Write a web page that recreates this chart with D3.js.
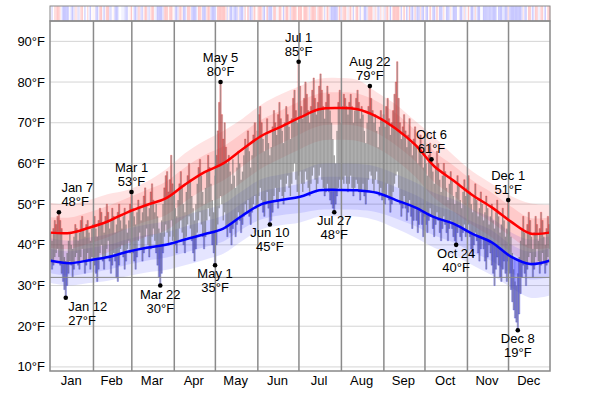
<!DOCTYPE html>
<html>
<head>
<meta charset="utf-8">
<script src="https://cdn.jsdelivr.net/npm/d3@7"></script>
<style>
  body { margin: 0; background: #fff; }
  svg text { font-family: "Liberation Sans", Arial, Helvetica, sans-serif; font-size: 13px; fill: #000; }
</style>
</head>
<body>
<div id="chart"></div>
<script>
// ---- data ----
const months = ["Jan", "Feb", "Mar", "Apr", "May", "Jun", "Jul", "Aug", "Sep", "Oct", "Nov", "Dec"];
const monthLengths = [31, 28, 31, 30, 31, 30, 31, 31, 30, 31, 30, 31];
const tempTicks = [10, 20, 30, 40, 50, 60, 70, 80, 90];

// daily high, °F (one row per month)
const dailyHigh = [
  43, 41, 44, 46, 45, 47, 48, 46, 44, 40, 37, 36, 38, 41, 43, 40, 39, 42, 45, 44, 41, 43, 46, 47, 44, 42, 45, 46, 43, 41, 44,
  45, 47, 44, 42, 46, 49, 48, 45, 43, 47, 50, 48, 44, 46, 49, 47, 43, 45, 48, 50, 46, 44, 47, 49, 45, 43, 46, 50,
  53, 49, 47, 45, 48, 51, 49, 46, 48, 52, 54, 50, 47, 49, 53, 55, 51, 48, 50, 47, 44, 43, 46, 50, 54, 57, 58, 53, 56, 62, 55,
  52, 49, 47, 51, 55, 58, 54, 50, 48, 53, 57, 60, 56, 52, 49, 46, 50, 55, 59, 61, 57, 53, 50, 54, 58, 62, 59, 55, 51, 48,
  57, 62, 68, 75, 80, 72, 66, 70, 64, 60, 62, 58, 55, 61, 57, 54, 59, 63, 60, 56, 58, 62, 66, 64, 68, 63, 59, 62, 67, 70, 66,
  68, 72, 74, 70, 66, 63, 67, 71, 65, 62, 64, 69, 73, 70, 67, 72, 75, 71, 68, 65, 70, 74, 72, 69, 66, 71, 76, 78, 73, 70,
  85, 79, 74, 71, 76, 80, 77, 73, 70, 74, 78, 81, 76, 72, 75, 79, 82, 78, 74, 71, 75, 79, 77, 73, 70, 66, 62, 60, 68, 75, 78,
  70, 74, 77, 76, 74, 72, 75, 77, 74, 70, 73, 76, 78, 75, 71, 74, 72, 68, 65, 70, 74, 79, 76, 73, 70, 72, 68, 64, 69, 73, 71,
  72, 69, 74, 76, 71, 67, 70, 73, 77, 80, 85, 76, 70, 66, 69, 72, 68, 64, 67, 71, 65, 62, 66, 69, 64, 60, 63, 67, 62, 59,
  64, 60, 57, 62, 65, 61, 58, 55, 59, 63, 60, 56, 53, 57, 60, 58, 54, 51, 55, 58, 56, 52, 50, 53, 57, 55, 51, 49, 53, 56, 52,
  54, 57, 53, 50, 48, 52, 55, 51, 47, 49, 53, 50, 46, 48, 52, 49, 45, 47, 50, 46, 44, 48, 51, 47, 43, 45, 49, 46, 42, 44,
  51, 46, 42, 38, 34, 31, 30, 33, 37, 41, 44, 47, 43, 40, 45, 48, 46, 42, 39, 43, 47, 45, 41, 44, 48, 46, 42, 40, 44, 47, 45
];

// daily low, °F
const dailyLow = [
  36, 34, 35, 37, 38, 39, 37, 35, 33, 31, 29, 27, 30, 33, 36, 35, 32, 34, 37, 38, 35, 34, 37, 39, 36, 33, 35, 38, 36, 34, 37,
  37, 35, 33, 31, 34, 38, 40, 36, 34, 37, 39, 41, 36, 33, 35, 38, 36, 32, 31, 35, 39, 40, 37, 34, 36, 39, 41, 38,
  40, 38, 36, 34, 37, 41, 43, 39, 36, 38, 42, 44, 40, 37, 39, 42, 44, 41, 38, 35, 32, 30, 33, 38, 42, 45, 43, 40, 42, 46, 41,
  42, 40, 38, 41, 44, 46, 43, 40, 38, 42, 45, 47, 44, 41, 38, 36, 39, 43, 46, 48, 45, 42, 39, 42, 46, 49, 47, 43, 40, 38,
  35, 40, 45, 49, 52, 50, 46, 48, 44, 42, 45, 43, 40, 44, 46, 42, 45, 48, 46, 43, 45, 47, 50, 48, 51, 47, 45, 48, 50, 52, 49,
  50, 52, 54, 51, 48, 47, 50, 53, 49, 45, 46, 48, 52, 54, 51, 49, 53, 56, 52, 50, 53, 55, 57, 54, 52, 55, 58, 60, 56, 53,
  57, 58, 55, 53, 55, 58, 56, 54, 52, 55, 57, 59, 56, 53, 55, 57, 59, 56, 54, 52, 53, 55, 53, 51, 50, 49, 48, 50, 52, 54, 56,
  54, 56, 55, 57, 55, 53, 55, 57, 54, 52, 54, 56, 55, 53, 51, 53, 55, 52, 50, 53, 56, 58, 57, 55, 53, 56, 58, 55, 52, 54, 51,
  53, 50, 52, 55, 51, 48, 50, 53, 55, 57, 58, 54, 50, 47, 49, 52, 49, 46, 48, 51, 47, 44, 46, 49, 46, 43, 45, 48, 45, 42,
  47, 45, 43, 46, 49, 47, 44, 42, 45, 48, 46, 43, 41, 44, 47, 45, 43, 41, 44, 46, 44, 42, 41, 40, 43, 45, 42, 41, 43, 45, 42,
  43, 45, 42, 39, 37, 40, 43, 41, 38, 36, 39, 42, 39, 36, 34, 37, 40, 38, 35, 33, 30, 34, 37, 35, 32, 31, 34, 36, 33, 31,
  36, 33, 29, 26, 24, 22, 21, 19, 23, 28, 32, 35, 33, 30, 34, 37, 38, 35, 32, 34, 37, 39, 36, 33, 35, 38, 36, 33, 35, 37, 39
];

// averages and percentile bands, sampled every two weeks
const normalDays = [0, 14, 28, 42, 56, 70, 84, 98, 112, 126, 140, 154, 168, 182, 196, 210, 224, 238, 252, 266, 280, 294, 308, 322, 336, 350, 364];
const avgHigh = [43.0, 42.9, 44.2, 45.8, 48.0, 49.8, 51.4, 54.8, 57.8, 60.0, 63.5, 66.8, 69.0, 71.3, 73.3, 73.6, 73.3, 71.5, 68.5, 64.6, 59.3, 55.8, 52.2, 49.2, 45.7, 42.8, 43.0];
const high90 = [50.3, 50.0, 51.0, 52.5, 53.5, 55.5, 58.5, 62.5, 65.5, 68.0, 71.0, 74.5, 77.0, 79.0, 80.8, 81.0, 80.5, 77.5, 74.5, 70.5, 66.5, 62.0, 58.0, 55.0, 52.0, 50.2, 49.8];
const high75 = [46.8, 46.7, 48.0, 49.6, 51.5, 53.5, 55.5, 59.0, 62.0, 64.2, 67.5, 70.8, 73.0, 75.3, 77.2, 77.5, 77.2, 75.3, 72.3, 68.2, 63.0, 59.5, 55.8, 52.8, 49.4, 46.6, 46.8];
const high25 = [39.2, 39.0, 40.3, 41.9, 44.0, 45.8, 47.3, 50.6, 53.6, 55.8, 59.3, 62.6, 64.9, 67.2, 69.2, 69.5, 69.2, 67.4, 64.5, 60.6, 55.4, 52.0, 48.5, 45.5, 42.0, 39.1, 39.3];
const high10 = [35.5, 35.3, 36.6, 38.2, 40.3, 42.0, 43.5, 46.8, 49.8, 52.0, 55.5, 58.8, 61.2, 63.5, 65.5, 65.8, 65.5, 63.8, 60.8, 56.8, 51.6, 48.2, 44.8, 41.8, 38.2, 35.3, 35.5];
const avgLow = [36.1, 35.5, 36.2, 37.0, 38.3, 39.3, 40.0, 41.3, 42.6, 44.0, 47.2, 50.0, 51.0, 51.8, 53.4, 53.5, 53.4, 52.8, 51.0, 49.2, 46.8, 45.2, 42.7, 40.6, 37.1, 35.3, 36.1];
const low90 = [41.6, 41.0, 41.8, 42.6, 44.0, 45.0, 45.8, 47.2, 48.6, 50.1, 53.3, 56.2, 57.3, 58.2, 59.9, 60.0, 59.9, 59.2, 57.4, 55.4, 52.8, 51.2, 48.7, 46.6, 43.1, 41.3, 42.1];
const low75 = [39.0, 38.4, 39.2, 40.0, 41.4, 42.4, 43.1, 44.5, 45.8, 47.2, 50.3, 53.1, 54.1, 55.0, 56.6, 56.7, 56.6, 56.0, 54.2, 52.3, 49.8, 48.2, 45.7, 43.6, 40.1, 38.3, 39.1];
const low25 = [33.0, 32.4, 33.1, 33.9, 35.1, 36.1, 36.8, 38.1, 39.4, 40.8, 43.9, 46.3, 47.3, 47.8, 48.6, 48.7, 48.6, 48.0, 46.5, 44.6, 42.3, 40.6, 38.2, 36.0, 33.0, 31.5, 32.0];
const low10 = [30.6, 30.0, 30.6, 31.2, 32.3, 33.2, 33.8, 35.0, 36.3, 37.8, 41.0, 43.8, 44.8, 45.5, 46.9, 47.0, 46.9, 46.0, 44.0, 41.8, 39.3, 37.5, 35.0, 32.5, 29.5, 27.0, 27.5];

// marked days
const noteDates = ["Jan 7", "Jan 12", "Mar 1", "Mar 22", "May 1", "May 5", "Jun 10", "Jul 1", "Jul 27", "Aug 22", "Oct 6", "Oct 24", "Dec 1", "Dec 8"];
const noteTemps = [48, 27, 53, 30, 35, 80, 45, 85, 48, 79, 61, 40, 51, 19];
const noteKinds = ["high", "low", "high", "low", "low", "high", "low", "high", "low", "high", "high", "low", "high", "low"];

// ---- chart ----
const width = 600, height = 394;
const plot = {left: 50, right: 550, top: 21, bottom: 371};

const x = d3.scaleLinear().domain([0, 365]).range([plot.left, plot.right]);
const y = d3.scaleLinear().domain([9, 95]).range([plot.bottom, plot.top]);

const svg = d3.select("#chart").append("svg")
    .attr("width", width)
    .attr("height", height);

svg.append("defs").append("clipPath").attr("id", "plot-clip")
    .append("rect")
    .attr("x", plot.left).attr("y", plot.top)
    .attr("width", plot.right - plot.left).attr("height", plot.bottom - plot.top);

const days = d3.range(dailyHigh.length);
const monthStarts = d3.cumsum([0].concat(monthLengths.slice(0, -1)));

// average for any day
const normHi = d3.scaleLinear().domain(normalDays).range(avgHigh);
const normLo = d3.scaleLinear().domain(normalDays).range(avgLow);

// anomaly strip along the top
const anomalyColor = d3.scaleLinear().domain([-3, 0, 3])
    .range(["#c8c8ff", "#ffffff", "#ffc8c8"]).clamp(true);

svg.append("g").selectAll("rect")
    .data(days)
    .join("rect")
    .attr("x", d => x(d))
    .attr("width", d => x(d + 1) - x(d) + 0.3)
    .attr("y", 6)
    .attr("height", 15)
    .attr("fill", d => anomalyColor((dailyHigh[d] + dailyLow[d]) / 2 - (normHi(d) + normLo(d)) / 2));

svg.append("rect")
    .attr("x", plot.left).attr("y", 6)
    .attr("width", plot.right - plot.left).attr("height", 15)
    .attr("fill", "none").attr("stroke", "#888").attr("stroke-width", 1);

const g = svg.append("g").attr("clip-path", "url(#plot-clip)");

// horizontal grid
g.append("g").selectAll("line")
    .data(tempTicks)
    .join("line")
    .attr("x1", plot.left).attr("x2", plot.right)
    .attr("y1", d => y(d)).attr("y2", d => y(d))
    .attr("stroke", "#d4d4d4").attr("stroke-width", 1);

// percentile bands
const band = (lo, hi) => d3.area()
    .x((d, i) => x(normalDays[i] + 0.5))
    .y0((d, i) => y(lo[i]))
    .y1((d, i) => y(hi[i]))
    .curve(d3.curveCatmullRom);

const bands = [
    [low10, low90, "rgba(0,0,255,0.1)"],
    [low25, low75, "rgba(0,0,255,0.1)"],
    [high10, high90, "rgba(255,0,0,0.11)"],
    [high25, high75, "rgba(255,0,0,0.11)"]
];
bands.forEach(b => {
    g.append("path")
        .datum(normalDays)
        .attr("d", band(b[0], b[1]))
        .attr("fill", b[2]);
});

// daily bars
const bars = g.append("g");
bars.selectAll("rect")
    .data(days)
    .join("rect")
    .attr("x", d => x(d))
    .attr("width", d => x(d + 1) - x(d))
    .attr("y", d => y(dailyHigh[d]))
    .attr("height", d => y(dailyLow[d]) - y(dailyHigh[d]))
    .attr("fill", "#5a5a5a")
    .attr("fill-opacity", 0.56);

// outline in red where a day beats the average high, blue where it drops below the average low
bars.selectAll("path.hi-edge")
    .data(days.filter(d => dailyHigh[d] > normHi(d)))
    .join("path")
    .attr("class", "hi-edge")
    .attr("d", d => `M${x(d)},${y(normHi(d))}V${y(dailyHigh[d])}H${x(d + 1)}V${y(normHi(d))}`)
    .attr("fill", "none")
    .attr("stroke", "#ff2020")
    .attr("stroke-opacity", 0.5)
    .attr("stroke-width", 0.6);

bars.selectAll("path.lo-edge")
    .data(days.filter(d => dailyLow[d] < normLo(d)))
    .join("path")
    .attr("class", "lo-edge")
    .attr("d", d => `M${x(d)},${y(normLo(d))}V${y(dailyLow[d])}H${x(d + 1)}V${y(normLo(d))}`)
    .attr("fill", "none")
    .attr("stroke", "#2020ff")
    .attr("stroke-opacity", 0.45)
    .attr("stroke-width", 0.6);

// freezing line
g.append("line")
    .attr("x1", plot.left).attr("x2", plot.right)
    .attr("y1", y(32)).attr("y2", y(32))
    .attr("stroke", "#888").attr("stroke-width", 1);

// month separators
g.append("g").selectAll("line")
    .data(monthStarts.slice(1))
    .join("line")
    .attr("x1", d => x(d) + 1).attr("x2", d => x(d) + 1)
    .attr("y1", plot.top).attr("y2", plot.bottom)
    .attr("stroke", "#8a8a8a").attr("stroke-width", 1.5);

// average lines
const avgLine = vals => d3.line()
    .x((d, i) => x(normalDays[i] + 0.5))
    .y((d, i) => y(vals[i]))
    .curve(d3.curveCatmullRom);

g.append("path").datum(normalDays).attr("d", avgLine(avgHigh))
    .attr("fill", "none").attr("stroke", "#ff0000").attr("stroke-width", 2.5);
g.append("path").datum(normalDays).attr("d", avgLine(avgLow))
    .attr("fill", "none").attr("stroke", "#0000ff").attr("stroke-width", 2.5);

// frame
svg.append("rect")
    .attr("x", plot.left).attr("y", plot.top)
    .attr("width", plot.right - plot.left).attr("height", plot.bottom - plot.top)
    .attr("fill", "none").attr("stroke", "#888").attr("stroke-width", 1.5);

// y labels
svg.append("g").selectAll("text")
    .data(tempTicks)
    .join("text")
    .attr("x", 45)
    .attr("y", d => y(d))
    .attr("dy", "0.35em")
    .attr("text-anchor", "end")
    .text(d => `${d}°F`);

// month labels
svg.append("g").selectAll("text")
    .data(months)
    .join("text")
    .attr("x", (d, i) => x(monthStarts[i] + monthLengths[i] / 2))
    .attr("y", 385)
    .attr("text-anchor", "middle")
    .text(d => d);

// notes
const parseDay = d3.timeParse("%b %d %Y");
const yearStart = new Date(2023, 0, 1);
const notes = svg.append("g");
noteDates.forEach((label, i) => {
    const day = d3.timeDay.count(yearStart, parseDay(label + " 2023"));
    const cx = x(day + 0.5), cy = y(noteTemps[i]);
    const nearEdge = cx < 75;
    const tx = nearEdge ? cx + 2.5 : cx;
    const anchor = nearEdge ? "start" : "middle";
    const lines = noteKinds[i] === "high" ? [cy - 20, cy - 6] : [cy + 13, cy + 27];

    notes.append("circle").attr("cx", cx).attr("cy", cy).attr("r", 2.3).attr("fill", "#000");
    notes.append("text").attr("x", tx).attr("y", lines[0]).attr("text-anchor", anchor).text(label);
    notes.append("text").attr("x", tx).attr("y", lines[1]).attr("text-anchor", anchor).text(`${noteTemps[i]}°F`);
});
</script>
</body>
</html>
